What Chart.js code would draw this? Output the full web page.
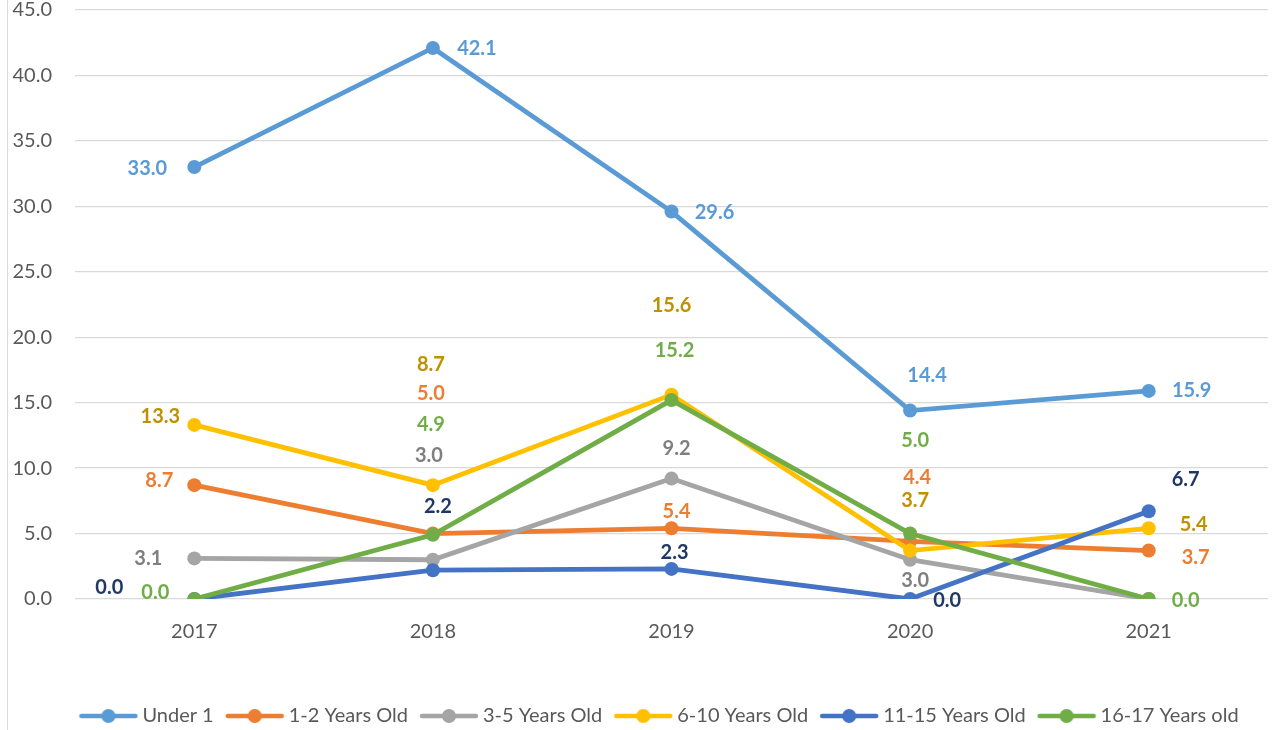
<!DOCTYPE html>
<html>
<head>
<meta charset="utf-8">
<script src="https://cdn.jsdelivr.net/npm/chart.js@4.4.1/dist/chart.umd.min.js"></script>
<style>
  html, body { margin: 0; padding: 0; background: #fff; }
  #wrap { width: 1275px; height: 730px; position: relative; }
</style>
</head>
<body>
<div id="wrap"><canvas id="rateChart" width="1275" height="730"></canvas></div>
<script>
const years = ['2017', '2018', '2019', '2020', '2021'];
const seriesNames = ['Under 1', '1-2 Years Old', '3-5 Years Old', '6-10 Years Old', '11-15 Years Old', '16-17 Years old'];

const under1 = [33.0, 42.1, 29.6, 14.4, 15.9];
const age1to2 = [8.7, 5.0, 5.4, 4.4, 3.7];
const age3to5 = [3.1, 3.0, 9.2, 3.0, 0.0];
const age6to10 = [13.3, 8.7, 15.6, 3.7, 5.4];
const age11to15 = [0.0, 2.2, 2.3, 0.0, 6.7];
const age16to17 = [0.0, 4.9, 15.2, 5.0, 0.0];

const yTicks = [0, 5, 10, 15, 20, 25, 30, 35, 40, 45];

// styling
const lineColors = ['#5B9BD5', '#ED7D31', '#A5A5A5', '#FFC000', '#4472C4', '#70AD47'];
const labelColors = ['#5B9BD5', '#ED7D31', '#7F7F7F', '#BF9000', '#203864', '#70AD47'];
// label offsets from each point (dx, dy), null = no label
const labelOffsets = [
    [[-47, 1], [44, 1], [43, 1], [17, -35], [43, 0]],
    [[-35, -5], [-2, -140], [5, -17], [7, -64], [47, 7]],
    [[-46, 0], [-4, -104], [5, -30], [5, 21], null],
    [[-34, -8], [-2, -121], [0, -89], [5, -50], [45, -4]],
    [[-85, -11], [5, -64], [3, -16], [37, 2], [37, -32]],
    [[-39, -6], [-2, -110], [3, -50], [5, -93], [37, 2]]
];

const allValues = [under1, age1to2, age3to5, age6to10, age11to15, age16to17];
const FONT = 'Lato, "Open Sans", sans-serif';

function legendMarker(color) {
    const c = document.createElement('canvas');
    c.width = 60; c.height = 16;
    const g = c.getContext('2d');
    g.strokeStyle = color;
    g.lineWidth = 4.5;
    g.lineCap = 'round';
    g.beginPath(); g.moveTo(3, 8); g.lineTo(57, 8); g.stroke();
    g.fillStyle = color;
    g.beginPath(); g.arc(30, 8, 7, 0, Math.PI * 2); g.fill();
    return c;
}
const markers = lineColors.map(legendMarker);

const leftBorder = {
    id: 'leftBorder',
    afterLayout(chart) {
        // legend sits a bit right of centre in the original
        chart.legend.left += 24;
        chart.legend.right += 24;
    },
    beforeDraw(chart) {
        const ctx = chart.ctx;
        ctx.save();
        ctx.strokeStyle = '#d9d9d9';
        ctx.lineWidth = 1;
        ctx.beginPath();
        ctx.moveTo(7.5, 0);
        ctx.lineTo(7.5, chart.height);
        ctx.stroke();
        ctx.restore();
    }
};

const valueLabels = {
    id: 'valueLabels',
    afterDatasetsDraw(chart) {
        const ctx = chart.ctx;
        ctx.save();
        ctx.font = 'bold 20px ' + FONT;
        ctx.textAlign = 'center';
        ctx.textBaseline = 'middle';
        chart.data.datasets.forEach((ds, i) => {
            const meta = chart.getDatasetMeta(i);
            meta.data.forEach((pt, j) => {
                const off = labelOffsets[i][j];
                if (!off) return;
                ctx.fillStyle = labelColors[i];
                ctx.fillText(ds.data[j].toFixed(1), pt.x + off[0], pt.y + off[1]);
            });
        });
        ctx.restore();
    }
};

const ctx = document.getElementById('rateChart').getContext('2d');
const rateChart = new Chart(ctx, {
    type: 'line',
    data: {
        labels: years,
        datasets: allValues.map((vals, i) => ({
            label: seriesNames[i],
            data: vals,
            borderColor: lineColors[i],
            backgroundColor: lineColors[i],
            pointBackgroundColor: lineColors[i],
            pointBorderWidth: 0,
            pointRadius: 7,
            borderWidth: 4.8,
            tension: 0,
            order: allValues.length - i
        }))
    },
    options: {
        responsive: false,
        animation: false,
        layout: { padding: { top: 10, right: 0, left: 0, bottom: -6 } },
        plugins: {
            tooltip: { enabled: false },
            legend: {
                position: 'bottom',
                labels: {
                    usePointStyle: true,
                    pointStyleWidth: 48,
                    padding: 17,
                    color: '#595959',
                    font: { family: FONT, size: 20 },
                    generateLabels(chart) {
                        return chart.data.datasets.map((ds, i) => ({
                            text: ds.label,
                            pointStyle: markers[i],
                            fillStyle: lineColors[i],
                            strokeStyle: lineColors[i],
                            lineWidth: 0,
                            fontColor: '#595959',
                            hidden: false,
                            datasetIndex: i
                        }));
                    }
                }
            }
        },
        scales: {
            x: {
                offset: true,
                grid: { display: false },
                border: { display: false },
                ticks: { color: '#595959', font: { family: FONT, size: 20 }, padding: 13 },
                afterFit(scale) {
                    scale.height = 90;
                    scale.paddingLeft = 0;
                    scale.paddingRight = 0;
                }
            },
            y: {
                min: 0,
                max: 45,
                border: { display: false },
                grid: { color: '#d9d9d9', lineWidth: 1.3, drawTicks: false },
                ticks: {
                    stepSize: 5,
                    color: '#595959',
                    font: { family: FONT, size: 20 },
                    padding: 23,
                    callback: (v) => yTicks.includes(v) ? v.toFixed(1) : ''
                },
                afterFit(scale) {
                    scale.width = 75;
                    scale.paddingTop = 0;
                    scale.paddingBottom = 0;
                }
            }
        }
    },
    plugins: [leftBorder, valueLabels]
});
</script>
</body>
</html>
